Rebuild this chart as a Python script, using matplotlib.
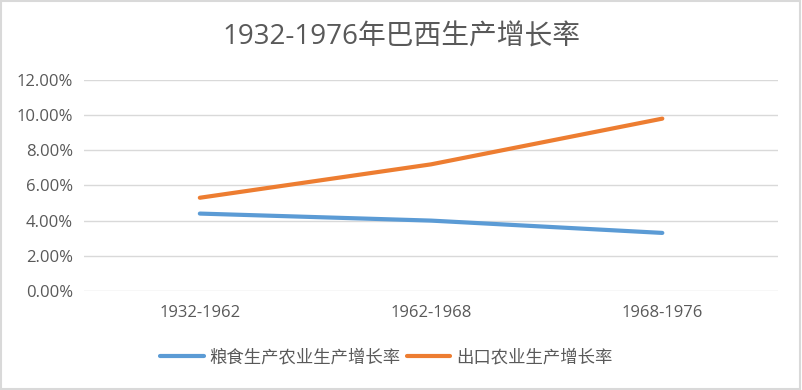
import matplotlib.pyplot as plt
import matplotlib.patches as patches

plt.rcParams['font.family'] = ['Open Sans', 'Noto Sans CJK SC', 'DejaVu Sans']

# dane
periods = ["1932-1962", "1962-1968", "1968-1976"]
grain_growth = [0.044, 0.040, 0.033]
export_growth = [0.053, 0.072, 0.098]
series_names = ["粮食生产农业生产增长率", "出口农业生产增长率"]
title = "1932-1976年巴西生产增长率"

text_color = "#595959"
grid_color = "#d9d9d9"

fig = plt.figure(figsize=(8.02, 3.90), dpi=100)
ax = fig.add_axes([0.105, 0.254, 0.865, 0.541])

x = range(len(periods))
ax.plot(x, grain_growth, color="#5B9BD5", lw=3, solid_capstyle="round", label=series_names[0])
ax.plot(x, export_growth, color="#ED7D31", lw=3, solid_capstyle="round", label=series_names[1])

ax.set_xlim(-0.5, len(periods) - 0.5)
ax.set_ylim(0, 0.12)
ax.set_yticks([i * 0.02 for i in range(7)])
ax.set_yticklabels([f"{i * 2:.2f}%" for i in range(7)])
ax.set_xticks(list(x))
ax.set_xticklabels(periods)

ax.tick_params(axis="both", length=0, labelsize=12, colors=text_color)
ax.tick_params(axis="y", pad=8)
ax.tick_params(axis="x", pad=10)
ax.grid(axis="y", color=grid_color, lw=1)
ax.set_axisbelow(True)
for s in ax.spines.values():
    s.set_visible(False)

fig.text(0.5, 0.905, title, ha="center", va="center", fontsize=20, color=text_color)

fig.legend(loc="center", bbox_to_anchor=(0.482, 0.082), ncol=2, frameon=False,
           fontsize=12.5, handlelength=2.5, columnspacing=0.35, handletextpad=0.35,
           labelcolor=text_color)

# ramka wokol obrazka
fig.patches.append(patches.Rectangle((0.001, 0.002), 0.997, 0.995, transform=fig.transFigure,
                                     fill=False, edgecolor=grid_color, lw=1.5))

fig.savefig("out.png", dpi=100)
